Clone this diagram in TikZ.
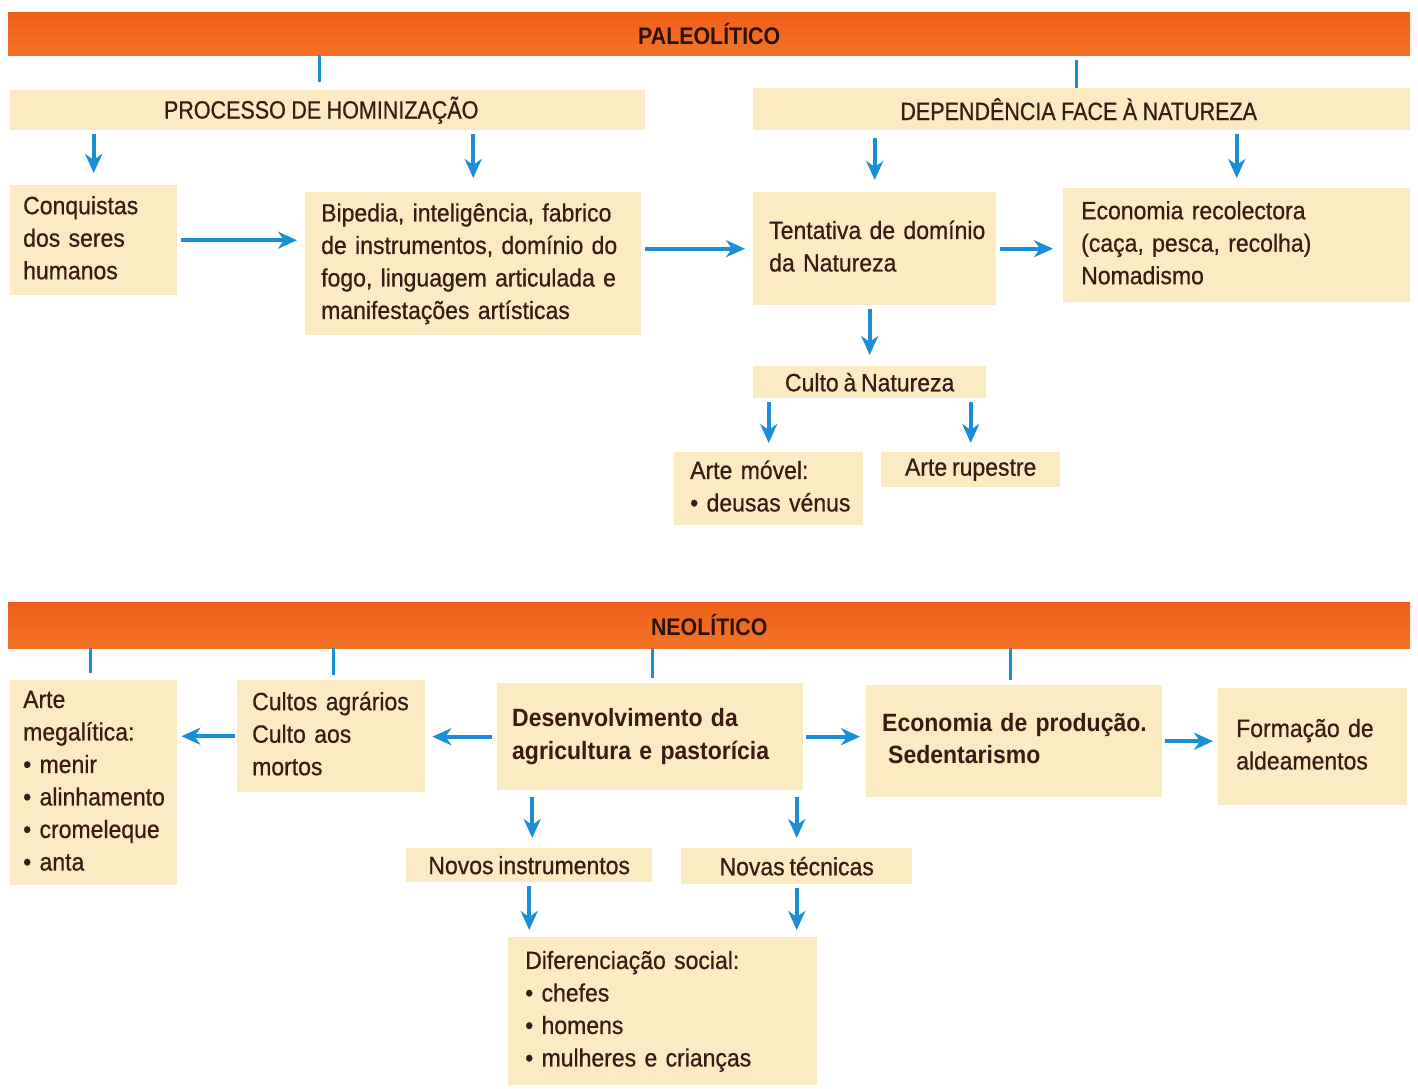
\documentclass[tikz,border=0pt]{standalone}
\usepackage{fontspec}
\setmainfont{Liberation Sans}[FakeStretch=0.92, UprightFeatures={FakeBold=0.6}]
\newfontfamily\capsfont{Liberation Sans}[FakeStretch=0.86, FakeBold=0.6]
\newfontfamily\headfont{Liberation Sans}[FakeStretch=0.89]
\usetikzlibrary{arrows.meta,calc}
\definecolor{boxfill}{HTML}{FBEBC3}
\definecolor{txt}{HTML}{3A1A12}
\definecolor{headtxt}{HTML}{2B1208}
\definecolor{arrblue}{HTML}{1A8FD6}
\definecolor{barA}{HTML}{EE5F1A}
\definecolor{barB}{HTML}{F47426}
\newcommand{\mylines}[1]{\begin{tabular}{@{}l@{}}#1\end{tabular}}
\newcommand{\bodysize}{\fontsize{25}{32.5}\selectfont\spaceskip 4.8pt plus 1pt minus 1pt\relax}
\newcommand{\capssize}{\capsfont\fontsize{25}{30}\selectfont\spaceskip 5.5pt\relax}
\tikzset{
  box/.style={fill=boxfill, text=txt, inner ysep=0pt, anchor=north west, align=left,
    font=\bodysize},
  cbox/.style={fill=boxfill, text=txt, inner sep=0pt, anchor=north west, align=center,
    font=\bodysize},
  capsbox/.style={cbox, font=\capssize},
  bar/.style={top color=barA, bottom color=barB, draw=none, inner sep=0pt, anchor=north west,
    text=headtxt, font=\headfont\bfseries\fontsize{24}{28}\selectfont},
  tick/.style={draw=arrblue, line width=3pt},
  arr/.style={draw=arrblue, line width=4pt, shorten <=4pt, shorten >=8pt,
    -{Stealth[length=19pt,width=17pt,inset=6pt]}}
}
\begin{document}
\begin{tikzpicture}[x=1pt,y=-1pt]
\useasboundingbox[fill=white] (0,0) rectangle (1418,1088);

% ---------- PALEOLITICO ----------
\node[bar, minimum width=1402pt, minimum height=43pt] (paleo) at (8,12) {PALEOLÍTICO};

\node[capsbox, minimum width=635pt, minimum height=40pt] (hom) at (10,90) {PROCESSO DE HOMINIZAÇÃO\kern13pt};
\node[capsbox, minimum width=657pt, minimum height=42pt] (dep) at (753,88) {DEPENDÊNCIA FACE À NATUREZA\kern6pt};

\node[box, minimum width=167pt, minimum height=110pt, inner xsep=13pt, text width=141pt] (conq) at (10,185)
  {\mylines{Conquistas\\dos seres\\humanos}};
\node[box, minimum width=336pt, minimum height=143pt, inner xsep=16pt, text width=304pt] (bip) at (305,192)
  {\mylines{Bipedia, inteligência, fabrico\\de instrumentos, domínio do\\fogo, linguagem articulada e\\manifestações artísticas}};
\node[box, minimum width=243pt, minimum height=113pt, inner xsep=16pt, text width=211pt] (tent) at (753,192)
  {\mylines{Tentativa de domínio\\da Natureza}};
\node[box, minimum width=347pt, minimum height=114pt, inner xsep=18pt, text width=311pt] (eco) at (1063,188)
  {\mylines{Economia recolectora\\(caça, pesca, recolha)\\Nomadismo}};
\node[cbox, minimum width=233pt, minimum height=32pt] (culto) at (753,366) {Culto à Natureza};
\node[box, minimum width=189pt, minimum height=73pt, inner xsep=16pt, text width=157pt] (movel) at (674,452)
  {\mylines{Arte móvel:\\• deusas vénus}};
\node[cbox, minimum width=179pt, minimum height=35pt] (rup) at (881,452) {Arte rupestre};

% ---------- NEOLITICO ----------
\node[bar, minimum width=1402pt, minimum height=46pt] (neo) at (8,602) {NEOLÍTICO};

\node[box, minimum width=167pt, minimum height=205pt, inner xsep=13pt, text width=141pt] (mega) at (10,680)
  {\mylines{Arte\\megalítica:\\• menir\\• alinhamento\\• cromeleque\\• anta}};
\node[box, minimum width=188pt, minimum height=112pt, inner xsep=15pt, text width=158pt] (cultos) at (237,680)
  {\mylines{Cultos agrários\\Culto aos\\mortos}};
\node[box, minimum width=306pt, minimum height=107pt, inner xsep=15pt, text width=276pt, font=\bfseries\bodysize] (desen) at (497,683)
  {\mylines{Desenvolvimento da\\agricultura e pastorícia}};
\node[box, minimum width=296pt, minimum height=112pt, inner xsep=16pt, text width=264pt, font=\bfseries\bodysize] (ecop) at (866,685)
  {\mylines{Economia de produção.\\\hspace*{6pt}Sedentarismo}};
\node[box, minimum width=189pt, minimum height=117pt, inner xsep=18pt, text width=153pt] (form) at (1218,688)
  {\mylines{Formação de\\aldeamentos}};
\node[cbox, minimum width=246pt, minimum height=34pt] (novi) at (406,848) {Novos instrumentos};
\node[cbox, minimum width=231pt, minimum height=36pt] (novt) at (681,848) {Novas técnicas};
\node[box, minimum width=309pt, minimum height=148pt, inner xsep=17pt, text width=275pt] (dif) at (508,937)
  {\mylines{Diferenciação social:\\• chefes\\• homens\\• mulheres e crianças}};

% ---------- ticks ----------
\coordinate (thom) at ($(hom.north)+(-8,0)$);
\coordinate (tdep) at ($(dep.north)+(-5,0)$);
\coordinate (tmega) at ($(mega.north)+(-3,0)$);
\coordinate (tcultos) at ($(cultos.north)+(2,0)$);
\coordinate (tdesen) at ($(desen.north)+(2,0)$);
\coordinate (tecop) at ($(ecop.north)+(-4,0)$);
\draw[tick, shorten >=8pt] (thom |- paleo.south) -- (thom);
\draw[tick, shorten <=5pt] (tdep |- paleo.south) -- (tdep);
\draw[tick, shorten >=7pt] (tmega |- neo.south) -- (tmega);
\draw[tick, shorten >=5pt] (tcultos |- neo.south) -- (tcultos);
\draw[tick, shorten >=5pt] (tdesen |- neo.south) -- (tdesen);
\draw[tick, shorten >=5pt] (tecop |- neo.south) -- (tecop);

% ---------- arrows: paleolitico ----------
\draw[arr, shorten >=12pt] (hom.south -| conq.north) -- (conq.north);
\draw[arr, shorten >=14pt] (hom.south -| bip.north) -- (bip.north);
\draw[arr, shorten <=8pt, shorten >=12pt] (dep.south -| tent.north) -- (tent.north);
\draw[arr, shorten >=10pt] (dep.south -| eco.north) -- (eco.north);
\draw[arr] (conq.east) -- (conq.east -| bip.west);
\draw[arr] (bip.east |- tent.west) -- (tent.west);
\draw[arr, shorten >=10pt] (tent.east) -- (tent.east -| eco.west);
\draw[arr, shorten >=11pt] (tent.south -| culto.north) -- (culto.north);
\draw[arr, shorten >=9pt] (culto.south -| movel.north) -- (movel.north);
\draw[arr, shorten >=9pt] (culto.south -| rup.north) -- (rup.north);

% ---------- arrows: neolitico ----------
\coordinate (dnovi) at ($(novi.north)+(3,0)$);
\draw[arr, shorten <=5pt, shorten >=7pt] (desen.west) -- (desen.west -| cultos.east);
\draw[arr, shorten <=2pt, shorten >=4pt] (cultos.west) -- (cultos.west -| mega.east);
\draw[arr, shorten <=3pt, shorten >=6pt] (desen.east) -- (desen.east -| ecop.west);
\draw[arr, shorten <=3pt, shorten >=5pt] (ecop.east) -- (ecop.east -| form.west);
\draw[arr, shorten <=7pt, shorten >=10pt] (desen.south -| dnovi) -- (dnovi);
\draw[arr, shorten <=7pt, shorten >=10pt] (desen.south -| novt.north) -- (novt.north);
\draw[arr, shorten >=7pt] (novi.south) -- (novi.south |- dif.north);
\draw[arr, shorten >=7pt] (novt.south) -- (novt.south |- dif.north);
\end{tikzpicture}
\end{document}
